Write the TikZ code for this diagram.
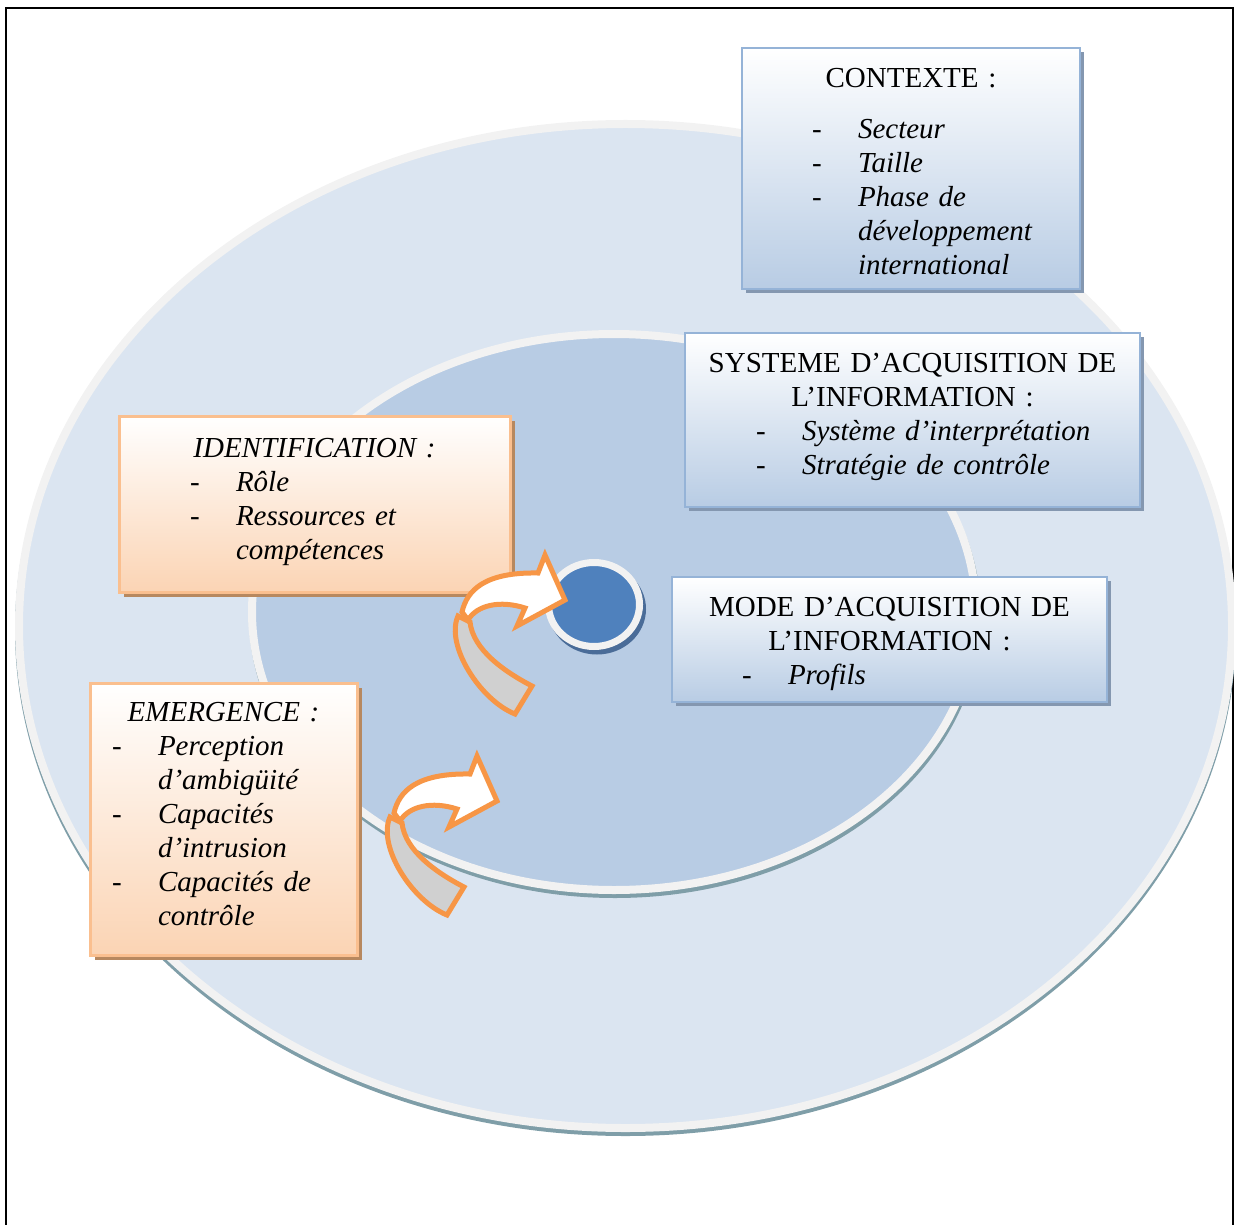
\documentclass[tikz,border=0pt]{standalone}
\usepackage{fontspec}
\setmainfont{Liberation Serif}
\usetikzlibrary{positioning, shadows}
\definecolor{AnneauBlanc}{HTML}{F2F2F2}
\definecolor{CercleExt}{HTML}{DBE5F1}
\definecolor{CercleInt}{HTML}{B8CCE4}
\definecolor{CercleCoeur}{HTML}{4F81BD}
\definecolor{OmbreCercle}{HTML}{7F9EA8}
\definecolor{OmbreCoeur}{HTML}{4A6C98}
\definecolor{BordBleu}{HTML}{95B3D7}
\definecolor{FondBleu}{HTML}{B8CCE4}
\definecolor{OmbreBleu}{HTML}{8497B0}
\definecolor{BordOrange}{HTML}{FABF8F}
\definecolor{FondOrange}{HTML}{FBD4B4}
\definecolor{OmbreOrange}{HTML}{B7885F}
\definecolor{FlecheOrange}{HTML}{F79646}
\definecolor{FlecheGris}{HTML}{D0D0D0}
% une ligne de liste : tiret puis texte en italique
\newcommand{\li}[2]{\makebox[\hsize][l]{\hspace*{#1}\makebox[23pt][l]{-}\textit{#2}}}
\newcommand{\lisuite}[2]{\makebox[\hsize][l]{\hspace*{#1}\hspace*{23pt}\textit{#2}}}

\begin{document}
\begin{tikzpicture}[x=0.5pt, y=-0.5pt,
    font=\fontsize{14.5}{17}\selectfont,
    boitebleue/.style={rectangle, draw=BordBleu, line width=1pt, top color=white, bottom color=FondBleu,
        drop shadow={shadow xshift=2pt, shadow yshift=-2pt, fill=OmbreBleu, opacity=1}},
    boiteorange/.style={rectangle, draw=BordOrange, line width=1.5pt, top color=white, bottom color=FondOrange,
        drop shadow={shadow xshift=2.5pt, shadow yshift=-2.5pt, fill=OmbreOrange, opacity=1}},
    texte/.style={anchor=north, inner sep=0pt, align=center, yshift=-8pt},
    fleche/.style={draw=FlecheOrange, line width=2.5pt}]
    \clip (0,0) rectangle (1234,1224);
    % Cadre
    \draw[line width=1pt] (6,8) rectangle (1233,1240);

    % Cercles concentriques
    \fill[OmbreCercle] (625.5,630) ellipse [x radius=305.25pt, y radius=253pt];
    \filldraw[draw=AnneauBlanc, fill=CercleExt, line width=4pt] (625.5,626) ellipse [x radius=303.25pt, y radius=251pt];
    \fill[OmbreCercle] (615,616) ellipse [x radius=183pt, y radius=141pt];
    \filldraw[draw=AnneauBlanc, fill=CercleInt, line width=4pt] (614,612) ellipse [x radius=181pt, y radius=139pt];
    \fill[OmbreCoeur] (597,609) ellipse [x radius=24.5pt, y radius=22.75pt];
    \filldraw[draw=AnneauBlanc, fill=CercleCoeur, line width=3.5pt] (594,604.5) ellipse [x radius=22.75pt, y radius=21pt];

    % Boites bleues
    \node[boitebleue, minimum width=169pt, minimum height=120.5pt] (contexte) at (911,168.5) {};
    \node[texte, text width=169pt] (contexte-t) at (contexte.north) {\strut CONTEXTE :\\[8.5pt]
        \li{35pt}{Secteur}\\
        \li{35pt}{Taille}\\
        \li{35pt}{Phase de}\\
        \lisuite{35pt}{développement}\\
        \lisuite{35pt}{international}};

    \node[boitebleue, minimum width=227.5pt, minimum height=87pt] (systeme) at (912.5,420) {};
    \node[texte, text width=227.5pt] (systeme-t) at (systeme.north) {\strut SYSTEME D’ACQUISITION DE\\
        L’INFORMATION :\\
        \li{35.5pt}{Système d’interprétation}\\
        \li{35.5pt}{Stratégie de contrôle}};

    \node[boitebleue, minimum width=217.5pt, minimum height=62.5pt] (mode) at (889.5,639.5) {};
    \node[texte, text width=217.5pt] (mode-t) at (mode.north) {\strut MODE D’ACQUISITION DE\\
        L’INFORMATION :\\
        \li{35pt}{Profils}};

    % Boites orange
    \node[boiteorange, minimum width=195.5pt, minimum height=88pt] (identification) at (314.5,504) {};
    \node[texte, text width=195.5pt, yshift=-1.5pt] (identification-t) at (identification.north) {\strut\textit{IDENTIFICATION :}\\
        \li{35.5pt}{Rôle}\\
        \li{35.5pt}{Ressources et}\\
        \lisuite{35.5pt}{compétences}};

    \node[boiteorange, minimum width=133.5pt, minimum height=136pt] (emergence) at (223.5,819) {};
    \node[texte, text width=133.5pt] (emergence-t) at (emergence.north) {\strut\textit{EMERGENCE :}\\
        \li{11pt}{Perception}\\
        \lisuite{11pt}{d’ambigüité}\\
        \li{11pt}{Capacités}\\
        \lisuite{11pt}{d’intrusion}\\
        \li{11pt}{Capacités de}\\
        \lisuite{11pt}{contrôle}};

    % Fleches courbes
    \foreach \px/\py in {565/600, 497/801} {
        \begin{scope}[shift={(\px,\py)}]
            \filldraw[fleche, fill=FlecheGris] (-107,16) .. controls (-120,45) and (-85,100) .. (-50,114)
                -- (-33,86) .. controls (-60,72) and (-92,50) .. (-95,22) -- cycle;
            \filldraw[fleche, fill=white] (-103,12) .. controls (-98,-10) and (-80,-28) .. (-27,-27)
                -- (-20,-45) -- (0,0) -- (-48,26) -- (-40,8) .. controls (-65,0) and (-88,5) .. (-97,20) -- cycle;
        \end{scope}
    }
\end{tikzpicture}
\end{document}
